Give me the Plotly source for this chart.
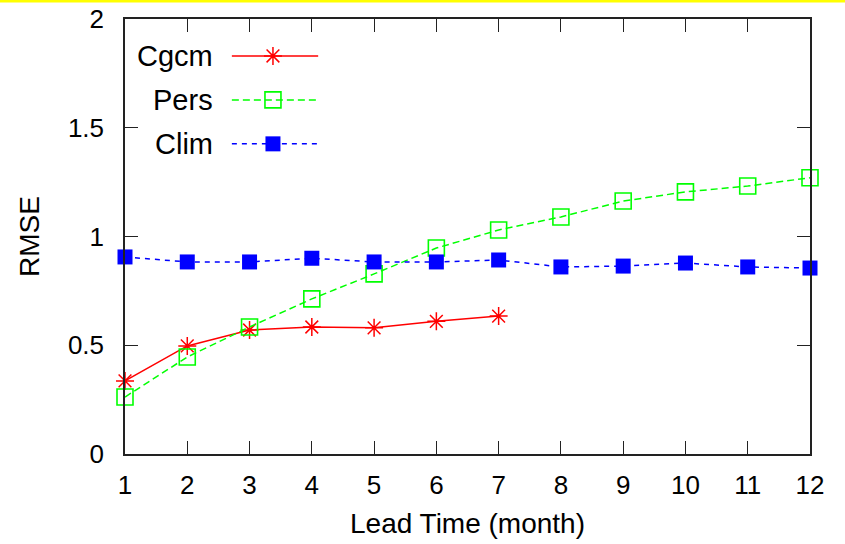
import plotly.graph_objects as go

# Lead time in months
lead = list(range(1, 13))

# RMSE per forecast scheme
cgcm = [0.336, 0.497, 0.570, 0.584, 0.580, 0.610, 0.634]
pers = [0.262, 0.446, 0.584, 0.713, 0.828, 0.947, 1.030, 1.090, 1.163, 1.205, 1.232, 1.270]
clim = [0.906, 0.883, 0.883, 0.900, 0.883, 0.883, 0.892, 0.860, 0.864, 0.878, 0.860, 0.855]

names = ["Cgcm", "Pers", "Clim"]

RED, GREEN, BLUE = "#ff0000", "#00ff00", "#0000ff"
FONT = "Liberation Sans, Arial, Helvetica, sans-serif"

fig = go.Figure()

styles = [
    dict(line=dict(color=RED, width=1.5, dash="solid"),
         marker=dict(symbol="asterisk-open", size=15, color=RED, line=dict(color=RED, width=1.5))),
    dict(line=dict(color=GREEN, width=1.5, dash="7px,4px"),
         marker=dict(symbol="square-open", size=16, color=GREEN, line=dict(color=GREEN, width=1.6))),
    dict(line=dict(color=BLUE, width=1.5, dash="5px,5px"),
         marker=dict(symbol="square", size=15, color=BLUE, line=dict(width=0))),
]

for name, ys, st in zip(names, [cgcm, pers, clim], styles):
    fig.add_trace(go.Scatter(
        x=lead[:len(ys)], y=ys, mode="lines+markers", name=name,
        line=st["line"], marker=st["marker"], cliponaxis=False, showlegend=False,
    ))

# Key: sample line with a centre marker on a unit overlay axis
key_rows = [0.915, 0.814, 0.713]
for name, yk, st in zip(names, key_rows, styles):
    fig.add_trace(go.Scatter(
        x=[0.156, 0.282], y=[yk, yk], mode="lines", line=st["line"],
        xaxis="x2", yaxis="y2", showlegend=False, hoverinfo="skip", cliponaxis=False,
    ))
    fig.add_trace(go.Scatter(
        x=[0.216], y=[yk], mode="markers", marker=st["marker"],
        xaxis="x2", yaxis="y2", showlegend=False, hoverinfo="skip", cliponaxis=False,
    ))
    fig.add_annotation(
        x=0.131, y=yk, xref="x2", yref="y2", text=name, showarrow=False,
        xanchor="right", yanchor="middle", font=dict(family=FONT, size=29, color="black"),
    )

axis_common = dict(
    showline=True, linecolor="#222222", linewidth=1.5, mirror="ticks",
    ticks="inside", ticklen=13, tickwidth=1.2, tickcolor="#222222",
    showgrid=False, zeroline=False, automargin=False,
    tickfont=dict(family=FONT, size=26, color="black"),
)

fig.update_layout(
    width=845, height=544,
    margin=dict(l=125, r=35, t=19, b=90, autoexpand=False),
    paper_bgcolor="white", plot_bgcolor="white",
    font=dict(family=FONT, size=26, color="black"),
    xaxis=dict(range=[1, 12], tickmode="linear", tick0=1, dtick=1,
               title=dict(text="Lead Time (month)", font=dict(family=FONT, size=28), standoff=14),
               ticklabelstandoff=7, **axis_common),
    yaxis=dict(range=[0, 2], tickmode="array", tickvals=[0, 0.5, 1, 1.5, 2],
               ticktext=["0", "0.5", "1", "1.5", "2"],
               title=dict(text="RMSE", font=dict(family=FONT, size=28), standoff=20),
               ticklabelstandoff=14, **axis_common),
    xaxis2=dict(range=[0, 1], overlaying="x", visible=False, fixedrange=True),
    yaxis2=dict(range=[0, 1], overlaying="y", visible=False, fixedrange=True),
    shapes=[dict(type="rect", xref="paper", yref="paper",
                 x0=-125 / 685, x1=1 + 35 / 685, y0=1 + 16.5 / 435, y1=1 + 19 / 435,
                 fillcolor="#ffff00", line=dict(width=0), layer="above")],
)

fig.write_html("out.html")
